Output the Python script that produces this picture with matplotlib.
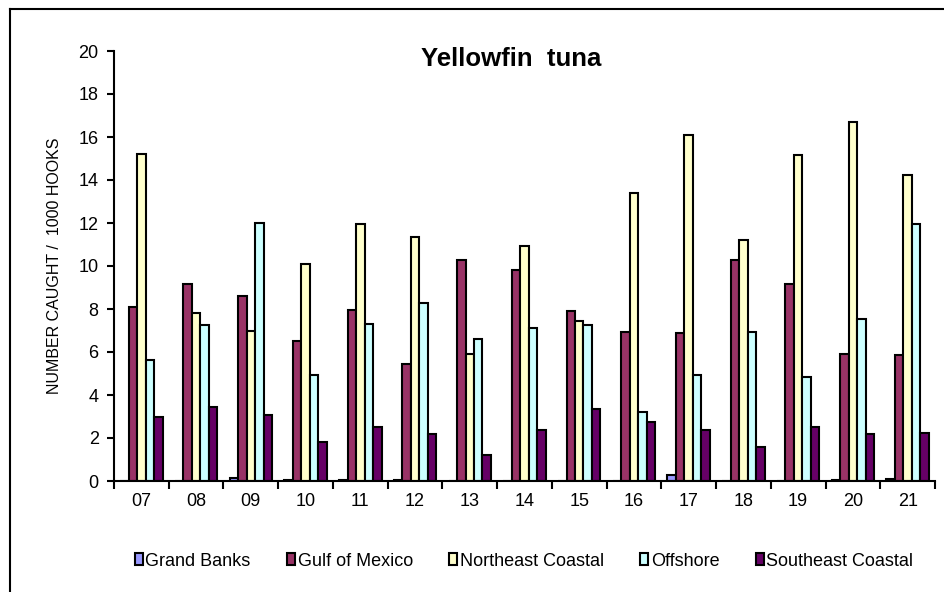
import numpy as np
import matplotlib.pyplot as plt
from matplotlib.lines import Line2D

plt.rcParams['font.family'] = ['Liberation Sans', 'DejaVu Sans']

years = ["07", "08", "09", "10", "11", "12", "13", "14", "15", "16", "17", "18", "19", "20", "21"]
grand_banks = [0.02, 0, 0.15, 0.03, 0.03, 0.03, 0, 0, 0, 0, 0.3, 0, 0, 0.05, 0.1]
gulf_of_mexico = [8.1, 9.15, 8.6, 6.5, 7.95, 5.45, 10.3, 9.8, 7.9, 6.95, 6.9, 10.3, 9.15, 5.9, 5.85]
northeast_coastal = [15.2, 7.8, 7.0, 10.1, 11.95, 11.35, 5.9, 10.95, 7.45, 13.4, 16.1, 11.2, 15.15, 16.7, 14.25]
offshore = [5.65, 7.25, 12.0, 4.95, 7.3, 8.3, 6.6, 7.1, 7.25, 3.2, 4.95, 6.95, 4.85, 7.55, 11.95]
southeast_coastal = [3.0, 3.45, 3.05, 1.8, 2.5, 2.2, 1.2, 2.35, 3.35, 2.75, 2.35, 1.6, 2.5, 2.2, 2.25]

series = {
    "Grand Banks": (grand_banks, "#9999FF"),
    "Gulf of Mexico": (gulf_of_mexico, "#993366"),
    "Northeast Coastal": (northeast_coastal, "#FFFFCC"),
    "Offshore": (offshore, "#CCFFFF"),
    "Southeast Coastal": (southeast_coastal, "#660066"),
}

fig = plt.figure(figsize=(9.44, 5.92), dpi=100)
ax = fig.add_axes([114 / 944, 1 - 481 / 592, 821 / 944, 430 / 592])

# chart area border (left and top only visible)
bx, by = 9.5 / 944, 1 - 8.5 / 592
fig.lines.append(Line2D([bx, bx], [0, by], transform=fig.transFigure, color="black", linewidth=1.5))
fig.lines.append(Line2D([bx, 1], [by, by], transform=fig.transFigure, color="black", linewidth=1.5))

x = np.arange(len(years))
w = 0.155
for i, (name, (vals, col)) in enumerate(series.items()):
    ax.bar(x + (i - 2) * w, vals, w, color=col, edgecolor="black", linewidth=1.5, label=name)

ax.set_xlim(-0.5, len(years) - 0.5)
ax.set_ylim(0, 20)
ax.set_yticks(range(0, 21, 2))
ax.set_xticks(x)
ax.set_xticklabels(years)
ax.set_xticks(np.arange(-0.5, len(years)), minor=True)
ax.tick_params(axis="x", which="major", length=0, pad=9, labelsize=13)
ax.tick_params(axis="x", which="minor", length=6, width=1.5, direction="out")
ax.tick_params(axis="y", length=5, width=1.5, direction="out", labelsize=13, pad=6)

for s in ["top", "right"]:
    ax.spines[s].set_visible(False)
for s in ["left", "bottom"]:
    ax.spines[s].set_linewidth(1.5)

ax.set_ylabel("NUMBER CAUGHT /  1000 HOOKS", fontsize=11.5, labelpad=12)
fig.text(511 / 944, 1 - 59 / 592, "Yellowfin  tuna", ha="center", va="center",
         fontsize=18.5, fontweight="bold")

fig.legend(loc="center", bbox_to_anchor=(524 / 944, 1 - 561 / 592), ncol=5, frameon=False,
           fontsize=13, handlelength=0.45, handleheight=0.6, handletextpad=0.15, columnspacing=2.0)

fig.savefig("out.png", dpi=100)
